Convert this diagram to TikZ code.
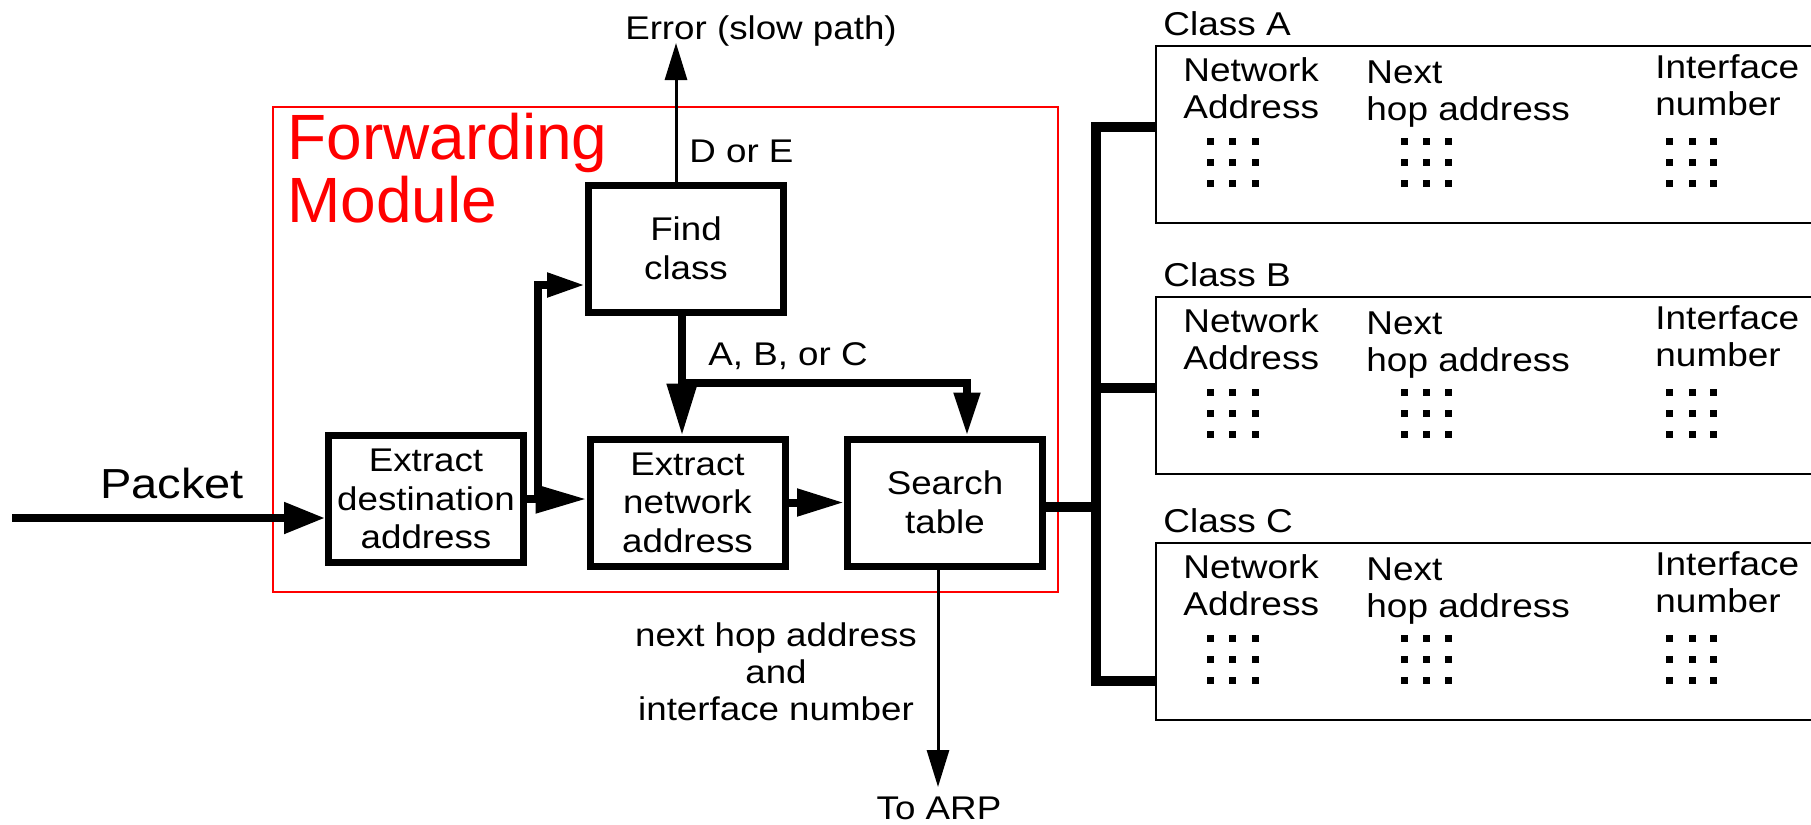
\documentclass[tikz,border=0pt]{standalone}
\usepackage{fontspec}
\setmainfont[FakeStretch=1.12]{Liberation Sans}
\newfontfamily\titlefont{Liberation Sans}
\usetikzlibrary{arrows.meta}
\tikzset{
  box/.style={draw, line width=3.5pt, minimum width=97.5pt, minimum height=63.5pt,
    inner sep=0pt, align=center, font=\fontsize{16.4pt}{19.25pt}\selectfont},
  lbl/.style={inner sep=0pt, font=\fontsize{16.4pt}{18.5pt}\selectfont},
  tarr/.style 2 args={line width=4pt, line join=miter, -{Triangle[length=#1,width=#2]}},
  tharr/.style={line width=1.5pt, -{Triangle[length=18.5pt,width=11pt]}},
  bus/.style={line width=5pt, line join=miter},
  tbl/.style={draw, line width=1.3pt, minimum width=337pt, minimum height=88.5pt, inner sep=0pt},
  tcol/.style={inner sep=0pt, anchor=north west, align=left, font=\fontsize{16.5pt}{18.5pt}\selectfont},
  frame/.style={draw=red, line width=0.7pt}
}
\begin{document}
\begin{tikzpicture}[x=0.5pt, y=-0.5pt]
\useasboundingbox (0,0) rectangle (1811,825);

% forwarding module frame
\draw[frame] (273,107) rectangle (1058,592);
\node[anchor=north west, inner sep=0pt, align=left, text=red,
  font=\titlefont\fontsize{32pt}{31.5pt}\selectfont] (fm) at (287,113) {Forwarding\\Module};

% boxes
\node[box] (ED) at (426,499) {Extract\\destination\\address};
\node[box] (FC) at (686,248.5) {Find\\class};
\node[box] (EN) at (687.5,502.5) {Extract\\network\\address};
\node[box] (ST) at (945,502.5) {Search\\table};

% labels
\node[lbl, anchor=base, font=\fontsize{21pt}{24pt}\selectfont] (pk) at (172,498) {Packet};
\node[lbl, anchor=base] (err) at (761,39) {Error (slow path)};
\node[lbl, anchor=base west] (de) at (689,162) {D or E};
\node[lbl, anchor=base west] (abc) at (708,365) {A, B, or C};
\node[lbl, align=center, anchor=north] (nh) at (776,622) {next hop address\\and\\interface number};
\node[lbl, anchor=base] (arp) at (939,819) {To ARP};

% coordinates
\coordinate (pkstart) at (12,518);
\coordinate (riseTop) at (538,285);
\coordinate (br) at (682,383);
\coordinate (errtip) at (676,43);
\coordinate (arptip) at (938,787);

% connectors
\draw[tarr={20.5pt}{15pt}] (pkstart) -- (ED.west |- pkstart);
\draw[tarr={19pt}{11.5pt}] (ED.east) -| (riseTop) -- (FC.west |- riseTop);
\draw[tarr={25.5pt}{13.5pt}] (ED.east) -- (EN.west |- ED.east);
\draw[tarr={26pt}{14.5pt}] ([xshift=-2pt]FC.south) -- ([xshift=-2pt]FC.south |- EN.north);
\draw[tarr={21.5pt}{12.5pt}] (br) -| ([xshift=11pt]ST.north);
\draw[tarr={23.5pt}{13pt}] (EN.east) -- (ST.west |- EN.east);
\draw[tharr] ([xshift=-5pt]FC.north) -- (errtip);
\draw[tharr] ([xshift=-3.5pt]ST.south) -- (arptip);

% class tables
\foreach \n/\t in {A/46, B/297, C/543} {
  \node[tbl] (t\n) at (1493,{\t+88.5}) {};
  \node[lbl, anchor=base west, font=\fontsize{16.5pt}{18.5pt}\selectfont] (cl\n) at (1163,{\t-11}) {Class \n};
  \node[tcol] (net\n) at (1183,{\t+11}) {Network\\Address};
  \node[tcol] (nxt\n) at (1366,{\t+14}) {Next\\hop address};
  \node[tcol] (ifc\n) at (1655,{\t+8}) {Interface\\number};
  \foreach \cx in {1210,1232,1255,1404,1426,1448,1669,1692,1713} {
    \foreach \ry in {95,116,137} {
      \fill ({\cx-3.5},{\t+\ry-3.5}) rectangle ++(7,7);
    }
  }
}

% bus
\draw[bus] ([yshift=3.75pt]tA.west) -- ++(-29.5pt,0) |- ([yshift=-24.5pt]tC.west);
\draw[bus] ([yshift=-1pt]tB.west) -- ++(-29.5pt,0);
\draw[bus] ([yshift=-2pt]ST.east) -- ++(25pt,0);
\end{tikzpicture}
\end{document}
